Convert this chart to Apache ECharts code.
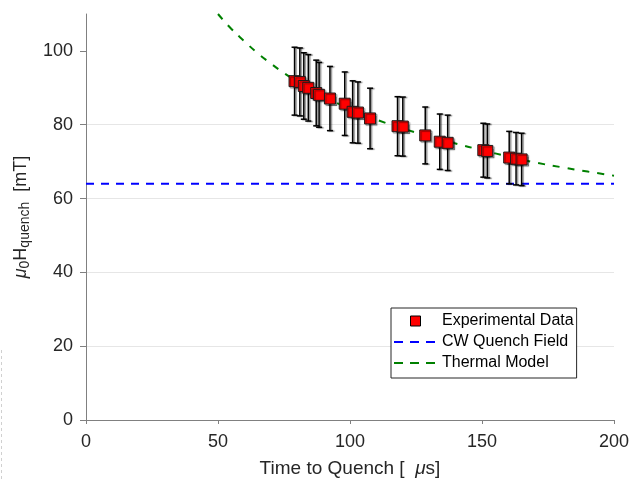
<!DOCTYPE html>
<html><head><meta charset="utf-8">
<script src="https://cdn.jsdelivr.net/npm/echarts@6/dist/echarts.min.js"></script>
<style>html,body{margin:0;padding:0;background:#fff}#c{width:630px;height:479px}</style>
</head><body><div id="c"></div>
<script>
// Experimental data (time to quench in µs, field in mT, error half-width in mT)
const expTime  = [79.0, 81.0, 82.5, 84.2, 87.2, 88.3, 92.4, 98.0, 101.0, 103.0, 107.6, 118.0, 120.0, 128.5, 134.0, 137.0, 150.5, 152.0, 160.3, 162.9, 165.0];
const expField = [91.8, 91.6, 90.5, 90.0, 88.6, 88.1, 87.1, 85.7, 83.5, 83.3, 81.7, 79.6, 79.5, 77.1, 75.4, 75.1, 73.1, 72.9, 71.1, 70.8, 70.6];
const expErr   = [9.2, 9.2, 9.0, 9.0, 8.9, 8.8, 8.7, 8.6, 8.4, 8.3, 8.2, 8.0, 8.0, 7.7, 7.5, 7.5, 7.3, 7.3, 7.1, 7.1, 7.1];
// Thermal model curve
const modelTime  = [50, 55, 60, 65, 70, 75, 80, 90, 100, 110, 120, 130, 140, 150, 160, 170, 180, 190, 200];
const modelField = [110, 106, 102.6, 99.4, 96.6, 94.0, 91.7, 87.7, 84.3, 81.4, 79.0, 76.8, 74.9, 73.1, 71.4, 69.8, 68.5, 67.3, 66.2];
// CW quench field
const cwTime  = [0, 200];
const cwField = [64, 64];
// Axis ticks
const xTicks = [0, 50, 100, 150, 200];
const yTicks = [0, 20, 40, 60, 80, 100];

const FONT = '"Liberation Sans", Arial, Helvetica, sans-serif';
const chart = echarts.init(document.getElementById('c'), null, {renderer: 'canvas'});

const expData = expTime.map((t, i) => [t, expField[i]]);
const errData = expTime.map((t, i) => [t, expField[i] - expErr[i], expField[i] + expErr[i]]);
const modelData = modelTime.map((t, i) => [t, modelField[i]]);
const cwData = cwTime.map((t, i) => [t, cwField[i]]);

function renderErr(params, api) {
  const x = api.value(0), lo = api.value(1), hi = api.value(2);
  const top = api.coord([x, hi]);
  const bot = api.coord([x, lo]);
  const cap = 3;
  const st = {stroke: '#000', lineWidth: 1.5, shadowColor: 'rgba(0,0,0,0.45)', shadowBlur: 1, shadowOffsetX: 1.5, shadowOffsetY: 0.5};
  return {
    type: 'group',
    children: [
      {type: 'line', shape: {x1: top[0], y1: top[1], x2: bot[0], y2: bot[1]}, style: st},
      {type: 'line', shape: {x1: top[0] - cap, y1: top[1], x2: top[0] + cap, y2: top[1]}, style: st},
      {type: 'line', shape: {x1: bot[0] - cap, y1: bot[1], x2: bot[0] + cap, y2: bot[1]}, style: st}
    ]
  };
}

chart.setOption({
  animation: false,
  backgroundColor: '#fff',
  textStyle: {fontFamily: FONT},
  grid: {left: 86, right: 16, top: 14, bottom: 59, containLabel: false, outerBoundsMode: 'none'},
  graphic: [{
    type: 'line', shape: {x1: 1.5, y1: 350, x2: 1.5, y2: 479},
    style: {stroke: '#d0d0d0', lineWidth: 1, lineDash: [3, 3]}, silent: true
  }],
  legend: {
    orient: 'vertical',
    left: 391, top: 308,
    padding: [4, 3, 6, 2],
    itemWidth: 43, itemHeight: 10, itemGap: 3,
    backgroundColor: '#fff',
    borderColor: '#262626', borderWidth: 1, borderRadius: 0,
    textStyle: {fontSize: 16, color: '#000', fontFamily: FONT, lineHeight: 18},
    selectedMode: false,
    data: [
      {name: 'Experimental Data', icon: 'path://M0,0L10,0L10,10L0,10Z', itemStyle: {color: '#ff0000', borderColor: '#000', borderWidth: 1}},
      {name: 'CW Quench Field', itemStyle: {opacity: 0, color: 'rgba(0,0,0,0)', borderWidth: 0}, lineStyle: {type: [9, 7], width: 2, color: '#0000ff'}},
      {name: 'Thermal Model', itemStyle: {opacity: 0, color: 'rgba(0,0,0,0)', borderWidth: 0}, lineStyle: {type: [9, 7], width: 2, color: '#008000'}}
    ]
  },
  xAxis: {
    type: 'value', min: 0, max: 200, interval: 50,
    name: 'Time to Quench [  {mu|μ}s]', nameLocation: 'middle', nameGap: 39,
    nameTextStyle: {fontSize: 19, color: '#262626', fontFamily: FONT,
      rich: {mu: {fontSize: 19, fontStyle: 'italic', color: '#262626', fontFamily: FONT}}},
    axisLine: {lineStyle: {color: '#808080', width: 1}},
    axisTick: {show: true, inside: false, length: 4, lineStyle: {color: '#808080'}, customValues: xTicks},
    axisLabel: {fontSize: 18, color: '#262626', margin: 13, fontFamily: FONT, customValues: xTicks},
    splitLine: {show: false}
  },
  yAxis: {
    type: 'value', min: 0, max: 110, interval: 20,
    name: '{mu|μ}{sub|0}H{sub|quench}  [mT]', nameLocation: 'middle', nameGap: 48,
    nameTextStyle: {fontSize: 18, color: '#262626', fontFamily: FONT,
      rich: {
        mu: {fontSize: 18, fontStyle: 'italic', color: '#262626', fontFamily: FONT},
        sub: {fontSize: 14, color: '#262626', fontFamily: FONT, verticalAlign: 'bottom', padding: [8, 0, 0, 0]}
      }},
    axisLine: {show: true, lineStyle: {color: '#808080', width: 1}},
    axisTick: {show: true, inside: false, length: 6, lineStyle: {color: '#808080'}, customValues: yTicks},
    axisLabel: {fontSize: 18, color: '#262626', margin: 13, fontFamily: FONT, customValues: yTicks},
    splitLine: {show: true, showMinLine: false, showMaxLine: false, lineStyle: {color: '#e6e6e6', width: 1}}
  },
  series: [
    {
      name: 'CW Quench Field', type: 'line', data: cwData, symbol: 'none', showSymbol: false, z: 1,
      itemStyle: {color: '#0000ff'},
      lineStyle: {color: '#0000ff', width: 2, type: [8, 7]}
    },
    {
      name: 'Thermal Model', type: 'line', data: modelData, smooth: true, symbol: 'none', showSymbol: false, z: 1,
      itemStyle: {color: '#008000'},
      lineStyle: {color: '#008000', width: 2, type: [7, 8]}
    },
    {
      name: 'Error', type: 'custom', data: errData, renderItem: renderErr, z: 2,
      encode: {x: 0, y: [1, 2]}
    },
    {
      name: 'Experimental Data', type: 'scatter', data: expData, symbol: 'rect', symbolSize: 11, z: 3,
      itemStyle: {color: '#ff0000', borderColor: '#1a1a1a', borderWidth: 1, opacity: 1,
        shadowColor: 'rgba(0,0,0,0.4)', shadowBlur: 1, shadowOffsetX: 1.5, shadowOffsetY: 1.5}
    }
  ]
});
</script></body></html>
